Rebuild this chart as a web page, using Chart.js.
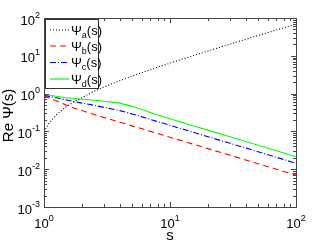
<!DOCTYPE html>
<html>
<head>
<meta charset="utf-8">
<script src="https://cdn.jsdelivr.net/npm/chart.js@4"></script>
<style>
  html, body { margin: 0; padding: 0; background: #fff; }
  #wrap { width: 327px; height: 245px; }
</style>
</head>
<body>
<div id="wrap"><canvas id="psiChart" width="327" height="245"></canvas></div>
<script>
// values
const sValues = [1, 1.1, 1.25, 1.5, 1.75, 2, 2.5, 3, 4, 5, 6, 7, 8, 10, 15, 20, 30, 50, 70, 100];
const psiA = [0.098, 0.168, 0.273, 0.448, 0.623, 0.78, 1.15, 1.5, 2.2, 2.9, 3.6, 4.3, 5.0, 6.4, 9.9, 13.4, 20.4, 34.4, 48.4, 69];
const psiB = [0.865, 0.77, 0.65, 0.5, 0.41, 0.355, 0.28, 0.233, 0.175, 0.14, 0.117, 0.1, 0.0875, 0.07, 0.0467, 0.035, 0.0233, 0.014, 0.01, 0.007];
const psiC = [0.9, 0.84, 0.78, 0.68, 0.61, 0.56, 0.49, 0.43, 0.355, 0.29, 0.242, 0.207, 0.181, 0.145, 0.097, 0.0725, 0.0483, 0.029, 0.0207, 0.0143];
const psiD = [0.95, 0.9, 0.85, 0.78, 0.74, 0.71, 0.67, 0.63, 0.56, 0.46, 0.38, 0.315, 0.27, 0.215, 0.143, 0.108, 0.072, 0.043, 0.0307, 0.0214];

const xDecades = [0, 1, 2];
const yDecades = [-3, -2, -1, 0, 1, 2];
const legendSubs = ["a", "b", "c", "d"];

const FONT = "'Liberation Sans', Arial, Helvetica, sans-serif";

function toPoints(ys) {
  return sValues.map((s, i) => ({ x: s, y: ys[i] }));
}

function makeSet(ys, color, dash) {
  return {
    data: toPoints(ys),
    borderColor: color,
    borderWidth: 1.1,
    borderDash: dash,
    pointRadius: 0,
    tension: 0,
    fill: false
  };
}

// draws "10" with a raised exponent, anchored by align
function drawPow(ctx, exp, x, y, align) {
  const base = "10";
  const sup = String(exp);
  ctx.font = "13px " + FONT;
  const wb = ctx.measureText(base).width;
  ctx.font = "9px " + FONT;
  const ws = ctx.measureText(sup).width;
  const total = wb + ws;
  let x0 = x;
  if (align === "center") x0 = x - total / 2;
  if (align === "right") x0 = x - total;
  ctx.fillStyle = "#000";
  ctx.textAlign = "left";
  ctx.textBaseline = "alphabetic";
  ctx.font = "13px " + FONT;
  ctx.fillText(base, x0, y);
  ctx.font = "9px " + FONT;
  ctx.fillText(sup, x0 + wb, y - 7);
}

const axesPlugin = {
  id: "matlabAxes",
  afterDatasetsDraw(chart) {
    const ctx = chart.ctx;
    const a = chart.chartArea;
    const xs = chart.scales.x;
    const ys = chart.scales.y;
    ctx.save();

    // ticks on all four sides, inward
    ctx.strokeStyle = "#444";
    ctx.lineWidth = 1;
    ctx.beginPath();
    for (let d = 0; d < 2; d++) {
      for (let m = 1; m <= 9; m++) {
        const v = m * Math.pow(10, d);
        const px = Math.round(xs.getPixelForValue(v)) + 0.5;
        const len = m === 1 ? 5 : 3;
        ctx.moveTo(px, a.bottom); ctx.lineTo(px, a.bottom - len);
        ctx.moveTo(px, a.top); ctx.lineTo(px, a.top + len);
      }
    }
    for (let d = -3; d < 2; d++) {
      for (let m = 1; m <= 9; m++) {
        const v = m * Math.pow(10, d);
        const py = Math.round(ys.getPixelForValue(v)) + 0.5;
        const len = m === 1 ? 5 : 3;
        ctx.moveTo(a.left, py); ctx.lineTo(a.left + len, py);
        ctx.moveTo(a.right, py); ctx.lineTo(a.right - len, py);
      }
    }
    ctx.stroke();

    // frame
    ctx.strokeStyle = "#444";
    ctx.lineWidth = 1;
    ctx.strokeRect(Math.round(a.left) + 0.5, Math.round(a.top) + 0.5,
      Math.round(a.right - a.left), Math.round(a.bottom - a.top));

    // tick labels
    xDecades.forEach(d => {
      drawPow(ctx, d, xs.getPixelForValue(Math.pow(10, d)), a.bottom + 21, "center");
    });
    yDecades.forEach(d => {
      drawPow(ctx, d, a.left - 4, ys.getPixelForValue(Math.pow(10, d)) + 6.5, "right");
    });

    // axis titles
    ctx.fillStyle = "#000";
    ctx.font = "15px " + FONT;
    ctx.textAlign = "center";
    ctx.textBaseline = "alphabetic";
    ctx.fillText("s", (a.left + a.right) / 2, 240);
    ctx.save();
    ctx.translate(13, (a.top + a.bottom) / 2 + 3);
    ctx.rotate(-Math.PI / 2);
    ctx.fillText("Re \u03A8(s)", 0, 0);
    ctx.restore();

    // legend
    const lx = 45.5, ly = 19.5, lw = 53, lh = 69;
    ctx.fillStyle = "#fff";
    ctx.fillRect(lx, ly, lw, lh);
    ctx.strokeStyle = "#333";
    ctx.strokeRect(lx, ly, lw, lh);
    const rows = [30, 46, 62.5, 79];
    chart.data.datasets.forEach((ds, i) => {
      const ry = rows[i];
      ctx.strokeStyle = ds.borderColor;
      ctx.lineWidth = 1.2;
      ctx.setLineDash(ds.borderDash || []);
      ctx.beginPath();
      ctx.moveTo(50, ry); ctx.lineTo(69, ry);
      ctx.stroke();
      ctx.setLineDash([]);
      ctx.fillStyle = "#000";
      ctx.textAlign = "left";
      ctx.font = "13px " + FONT;
      ctx.fillText("\u03A8", 71, ry + 4.5);
      const wp = ctx.measureText("\u03A8").width;
      ctx.font = "9px " + FONT;
      ctx.fillText(legendSubs[i], 71 + wp, ry + 7.5);
      const wsub = ctx.measureText(legendSubs[i]).width;
      ctx.font = "13px " + FONT;
      ctx.fillText("(s)", 71 + wp + wsub, ry + 4.5);
    });

    ctx.restore();
  }
};

new Chart(document.getElementById("psiChart"), {
  type: "line",
  data: {
    datasets: [
      makeSet(psiA, "#000000", [1, 2]),
      makeSet(psiB, "#ff0000", [6, 4]),
      makeSet(psiC, "#0000ff", [6, 2, 1, 2]),
      makeSet(psiD, "#00ff00", [])
    ]
  },
  options: {
    responsive: false,
    animation: false,
    events: [],
    layout: { padding: { left: 44, right: 31, top: 18, bottom: 38 } },
    plugins: { legend: { display: false }, tooltip: { enabled: false } },
    scales: {
      x: { type: "logarithmic", min: 1, max: 100, display: false },
      y: { type: "logarithmic", min: 0.001, max: 100, display: false }
    }
  },
  plugins: [axesPlugin]
});
</script>
</body>
</html>
